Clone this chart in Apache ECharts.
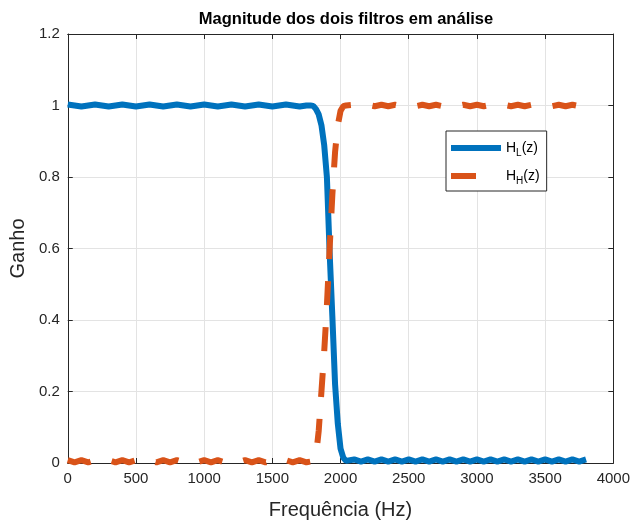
<!DOCTYPE html>
<html>
<head>
<meta charset="utf-8">
<script src="https://cdn.jsdelivr.net/npm/echarts@6/dist/echarts.min.js"></script>
<style>
  html, body { margin: 0; padding: 0; background: #fff; }
  #main { width: 633px; height: 525px; }
</style>
</head>
<body>
<div id="main"></div>
<script>
// frequencias (Hz)
let freq = [
  0, 50, 100, 150, 200, 250, 300, 350, 400, 450, 500, 550, 600, 650, 700, 750, 800, 850,
  900, 950, 1000, 1050, 1100, 1150, 1200, 1250, 1300, 1350, 1400, 1450, 1500, 1550, 1600, 1650,
  1700, 1750,
  1780, 1800, 1820, 1840, 1860, 1880, 1900, 1920, 1940, 1960, 1980, 2000, 2020, 2040,
  2100, 2150, 2200, 2250, 2300, 2350, 2400, 2450, 2500, 2550, 2600, 2650, 2700, 2750, 2800, 2850,
  2900, 2950, 3000, 3050, 3100, 3150, 3200, 3250, 3300, 3350, 3400, 3450, 3500, 3550, 3600, 3650,
  3700, 3750, 3800
];

// |H_L(z)|
let gainLow = [
  1.003, 1.000, 0.997, 1.000, 1.003, 1.000, 0.997, 1.000, 1.003, 1.000, 0.997, 1.000,
  1.003, 1.000, 0.997, 1.000, 1.003, 1.000, 0.997, 1.000, 1.003, 1.000, 0.997, 1.000,
  1.003, 1.000, 0.997, 1.000, 1.003, 1.000, 0.997, 1.000, 1.003, 1.000, 0.997, 1.000,
  1.000, 0.999, 0.990, 0.975, 0.945, 0.890, 0.800, 0.590, 0.410, 0.220, 0.110, 0.040, 0.015, 0.006,
  0.010, 0.004, 0.010, 0.004, 0.010, 0.004, 0.010, 0.004, 0.010, 0.004, 0.010, 0.004,
  0.010, 0.004, 0.010, 0.004, 0.010, 0.004, 0.010, 0.004, 0.010, 0.004, 0.010, 0.004,
  0.010, 0.004, 0.010, 0.004, 0.010, 0.004, 0.010, 0.004, 0.010, 0.004, 0.010
];

// |H_H(z)|
let gainHigh = [
  0.008, 0.002, 0.008, 0.002, 0.008, 0.002, 0.008, 0.002, 0.008, 0.002, 0.008, 0.002,
  0.008, 0.002, 0.008, 0.002, 0.008, 0.002, 0.008, 0.002, 0.008, 0.002, 0.008, 0.002,
  0.008, 0.002, 0.008, 0.002, 0.008, 0.002, 0.008, 0.002, 0.008, 0.002, 0.008, 0.002,
  0.004, 0.006, 0.020, 0.090, 0.200, 0.310, 0.440, 0.600, 0.750, 0.870, 0.945, 0.985, 0.998, 1.000,
  1.002, 0.998, 1.002, 0.998, 1.002, 0.998, 1.002, 0.998, 1.002, 0.998, 1.002, 0.998,
  1.002, 0.998, 1.002, 0.998, 1.002, 0.998, 1.002, 0.998, 1.002, 0.998, 1.002, 0.998,
  1.002, 0.998, 1.002, 0.998, 1.002, 0.998, 1.002, 0.998, 1.002, 0.998, 1.002
];

let font = "'Liberation Sans', Arial, Helvetica, sans-serif";
let axisColor = "#262626";
let gridColor = "#e3e3e3";

let toPairs = (ys) => freq.map((f, i) => [f, ys[i]]);

let myChart = echarts.init(document.getElementById("main"), null, { renderer: "canvas" });

let baseAxis = {
  axisLine: { show: true, onZero: false, lineStyle: { color: axisColor, width: 1 } },
  axisTick: { show: true, inside: true, length: 5, lineStyle: { color: axisColor } },
};

let option = {
  animation: false,
  backgroundColor: "#fff",
  textStyle: { fontFamily: font },
  title: {
    text: "Magnitude dos dois filtros em análise",
    left: 341,
    top: 6,
    textAlign: "center",
    textStyle: { fontFamily: font, fontSize: 16.5, fontWeight: "bold", color: "#000" },
  },
  grid: { left: 67, right: 19, top: 34, bottom: 61 },
  legend: {
    orient: "vertical",
    left: 446,
    top: 131,
    padding: [7, 7, 5, 5],
    itemGap: 8,
    itemWidth: 50,
    itemHeight: 20,
    borderColor: axisColor,
    borderWidth: 1,
    backgroundColor: "#fff",
    data: [
      { name: "HL", icon: "path://M0,7H50V13H0Z M0,0H0.01V0.01H0Z M0,20H0.01V19.99H0Z" },
      { name: "HH", icon: "path://M0,7H25V13H0Z M0,0H0.01V0.01H0Z M50,20H49.99V19.99H50Z" },
    ],
    formatter: (name) => {
      return name === "HL" ? "{m|H}{s|L}{m|(z)}" : "{m|H}{s|H}{m|(z)}";
    },
    textStyle: {
      rich: {
        m: { fontFamily: font, fontSize: 14, color: "#000" },
        s: { fontFamily: font, fontSize: 10, color: "#000", padding: [10, 0, 0, 0] },
      },
    },
  },
  xAxis: [
    Object.assign({}, baseAxis, {
      type: "value",
      min: 0,
      max: 4000,
      interval: 500,
      position: "bottom",
      name: "Frequência (Hz)",
      nameLocation: "middle",
      nameGap: 37,
      nameTextStyle: { fontFamily: font, fontSize: 20, color: axisColor },
      axisLabel: {
        color: axisColor,
        fontSize: 15,
        fontFamily: font,
        margin: 8,
        formatter: (v) => String(v),
      },
      splitLine: { show: true, lineStyle: { color: gridColor } },
    }),
    Object.assign({}, baseAxis, {
      type: "value",
      min: 0,
      max: 4000,
      interval: 500,
      position: "top",
      axisLabel: { show: false },
      splitLine: { show: false },
    }),
  ],
  yAxis: [
    Object.assign({}, baseAxis, {
      type: "value",
      min: 0,
      max: 1.2,
      interval: 0.2,
      position: "left",
      name: "Ganho",
      nameLocation: "middle",
      nameGap: 30,
      nameTextStyle: { fontFamily: font, fontSize: 20, color: axisColor },
      axisLabel: { color: axisColor, fontSize: 15, fontFamily: font, margin: 8 },
      splitLine: { show: true, lineStyle: { color: gridColor } },
    }),
    Object.assign({}, baseAxis, {
      type: "value",
      min: 0,
      max: 1.2,
      interval: 0.2,
      position: "right",
      axisLabel: { show: false },
      splitLine: { show: false },
    }),
  ],
  series: [
    {
      name: "HL",
      type: "line",
      data: toPairs(gainLow),
      showSymbol: false,
      symbol: "none",
      lineStyle: { color: "#0072BD", width: 6 },
      itemStyle: { color: "#0072BD" },
    },
    {
      name: "HH",
      type: "line",
      data: toPairs(gainHigh),
      showSymbol: false,
      symbol: "none",
      lineStyle: { color: "#D95319", width: 6, type: [24, 22] },
      itemStyle: { color: "#D95319" },
    },
  ],
};

myChart.setOption(option);
</script>
</body>
</html>
